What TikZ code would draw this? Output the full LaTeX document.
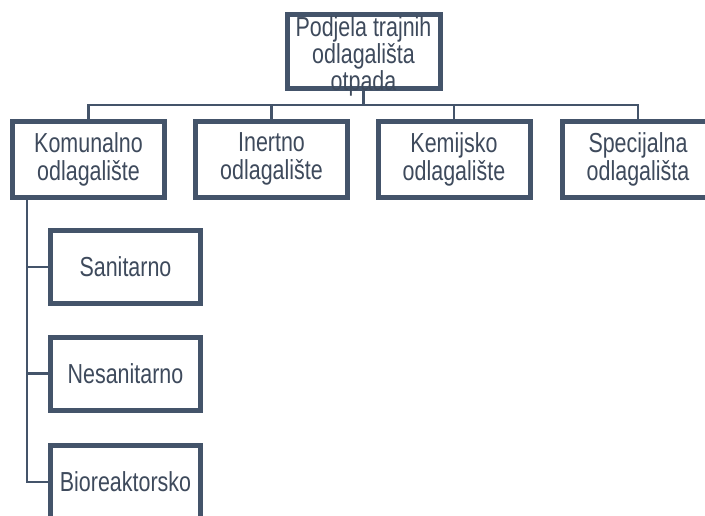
\documentclass[tikz,border=0pt]{standalone}
\usepackage{fontspec}
\setmainfont{Liberation Sans}[FakeStretch=0.78]
\definecolor{sl}{HTML}{44546A}
\definecolor{tx}{HTML}{3E4A5C}
\begin{document}
\begin{tikzpicture}[x=1pt,y=-1pt,
  box/.style={draw=sl, line width=5pt, fill=white, text=tx, align=center,
    font=\fontsize{27.5}{28}\selectfont, inner sep=0pt},
  lvl/.style={box, minimum width=152pt, minimum height=76pt},
  sub/.style={box, minimum width=150pt, minimum height=73pt},
  con/.style={draw=sl, line width=2.7pt}]
\useasboundingbox (0,0) rectangle (705,515);
\clip (0,0) rectangle (705,515);
\node[box, minimum width=153pt, minimum height=74pt] (top) at (363.5,51) {};
\node[text=tx, align=center, font=\fontsize{27.5}{27}\selectfont] (toptxt) at (363.5,56) {Podjela trajnih\\odlagališta\\otpada};
\node[lvl] (kom) at (88.5,159) {Komunalno\\odlagalište};
\node[lvl] (ine) at (271.5,159) {Inertno\\odlagalište};
\node[lvl] (kem) at (454,159) {Kemijsko\\odlagalište};
\node[lvl] (spe) at (638,159) {Specijalna\\odlagališta};
\node[sub] (san) at (125.5,267) {Sanitarno};
\node[sub] (nes) at (125.5,373.5) {Nesanitarno};
\node[sub] (bio) at (125.5,482) {Bioreaktorsko};
\coordinate (bus) at (363.5,105);
\coordinate (kv) at (27,199);
\draw[con] (top.south) -- (bus);
\draw[con] (kom.north) |- (bus) -| (spe.north);
\draw[con] (ine.north) -- (ine.north |- bus);
\draw[con] (kem.north) -- (kem.north |- bus);
\draw[con] (kv) |- (san.west);
\draw[con] (kv) |- (nes.west);
\draw[con] (kv) |- (bio.west);
\end{tikzpicture}
\end{document}
